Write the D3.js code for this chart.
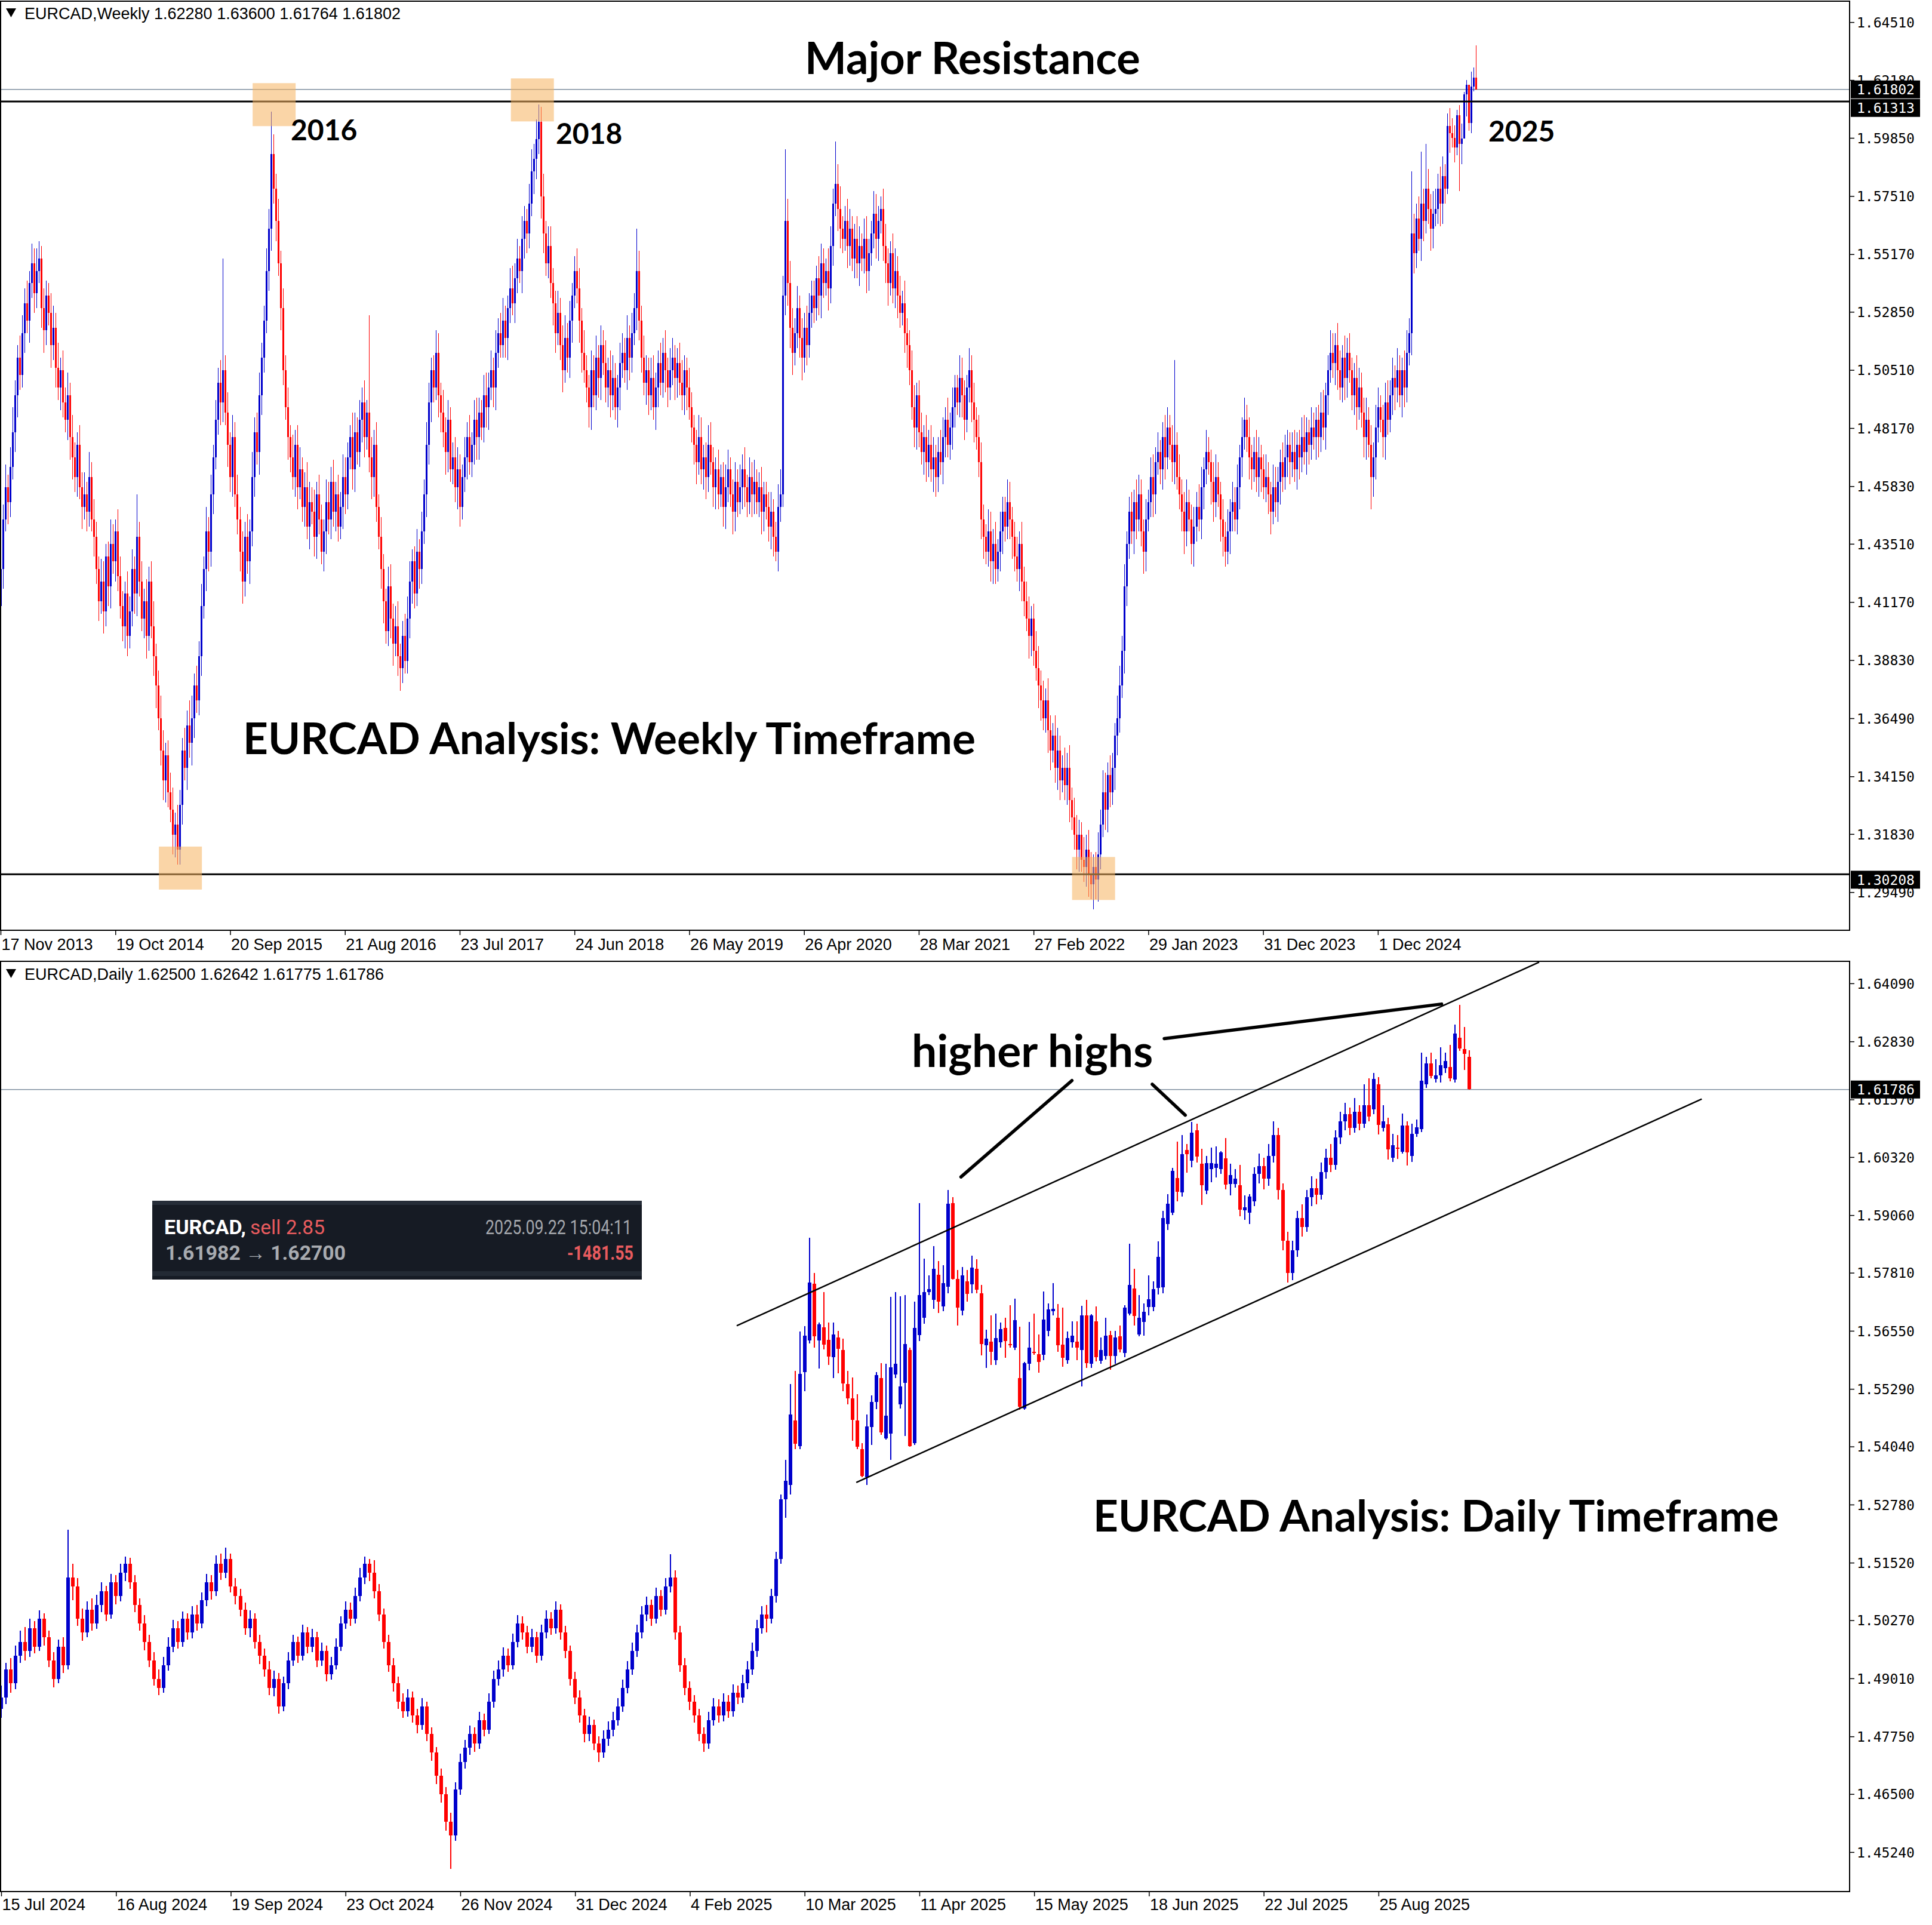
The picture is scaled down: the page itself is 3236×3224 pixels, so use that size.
<!DOCTYPE html>
<html lang="en">
<head>
<meta charset="utf-8">
<title>EURCAD Weekly and Daily</title>
<script src="https://d3js.org/d3.v7.min.js"></script>
<style>
  body { margin: 0; background: #ffffff; }
  svg { display: block; }
</style>
</head>
<body>
<script>
// ---------- weekly EURCAD, one bar per week from 17 Nov 2013 ----------
// weekly bars open at the prior close; wicks are in units of 0.001
var wkFirstOpen = 1.410;
var wkClose = [
  1.425,1.445,1.458,1.452,1.466,1.480,1.495,1.510,1.503,1.520,
  1.532,1.525,1.540,1.548,1.536,1.545,1.550,1.530,1.521,1.535,
  1.528,1.515,1.522,1.506,1.498,1.505,1.492,1.485,1.495,1.478,
  1.470,1.462,1.475,1.458,1.450,1.455,1.448,1.462,1.445,1.438,
  1.425,1.412,1.420,1.408,1.430,1.418,1.435,1.428,1.440,1.422,
  1.410,1.402,1.415,1.398,1.408,1.425,1.415,1.438,1.420,1.405,
  1.412,1.398,1.420,1.402,1.390,1.378,1.365,1.352,1.340,1.350,
  1.335,1.328,1.318,1.322,1.312,1.330,1.352,1.345,1.362,1.355,
  1.365,1.378,1.372,1.390,1.410,1.425,1.440,1.432,1.455,1.470,
  1.485,1.500,1.492,1.505,1.488,1.475,1.462,1.478,1.455,1.445,
  1.432,1.420,1.438,1.428,1.440,1.462,1.480,1.472,1.495,1.510,
  1.525,1.545,1.562,1.592,1.578,1.565,1.548,1.530,1.505,1.490,
  1.478,1.470,1.462,1.475,1.458,1.465,1.450,1.458,1.442,1.452,
  1.448,1.438,1.455,1.445,1.432,1.440,1.452,1.445,1.460,1.448,
  1.455,1.442,1.450,1.462,1.455,1.470,1.478,1.465,1.480,1.472,
  1.485,1.492,1.478,1.488,1.470,1.462,1.475,1.450,1.438,1.425,
  1.412,1.400,1.418,1.405,1.395,1.402,1.390,1.385,1.398,1.388,
  1.405,1.420,1.428,1.415,1.432,1.425,1.440,1.455,1.475,1.492,
  1.505,1.498,1.512,1.495,1.488,1.480,1.472,1.485,1.465,1.470,
  1.458,1.465,1.450,1.462,1.470,1.478,1.468,1.475,1.485,1.478,
  1.488,1.482,1.495,1.490,1.498,1.505,1.498,1.512,1.520,1.515,
  1.525,1.518,1.530,1.538,1.532,1.542,1.550,1.545,1.558,1.565,
  1.560,1.572,1.585,1.590,1.598,1.605,1.575,1.560,1.548,1.555,
  1.540,1.532,1.520,1.528,1.515,1.505,1.518,1.510,1.525,1.535,
  1.545,1.538,1.525,1.512,1.505,1.498,1.490,1.505,1.495,1.510,
  1.502,1.515,1.508,1.498,1.505,1.495,1.502,1.490,1.498,1.508,
  1.512,1.505,1.518,1.510,1.520,1.530,1.545,1.525,1.510,1.500,
  1.505,1.495,1.502,1.490,1.498,1.508,1.500,1.512,1.505,1.498,
  1.505,1.510,1.502,1.508,1.500,1.495,1.505,1.498,1.490,1.482,
  1.475,1.468,1.478,1.465,1.470,1.462,1.475,1.468,1.458,1.465,
  1.455,1.462,1.450,1.458,1.465,1.455,1.448,1.460,1.452,1.458,
  1.465,1.458,1.452,1.462,1.455,1.460,1.452,1.458,1.448,1.455,
  1.450,1.442,1.448,1.438,1.432,1.450,1.455,1.535,1.565,1.540,
  1.522,1.512,1.520,1.530,1.518,1.510,1.522,1.515,1.528,1.535,
  1.530,1.542,1.535,1.548,1.540,1.545,1.538,1.555,1.572,1.580,
  1.570,1.562,1.558,1.565,1.555,1.562,1.550,1.558,1.548,1.555,
  1.550,1.558,1.545,1.552,1.560,1.568,1.558,1.565,1.570,1.555,
  1.548,1.540,1.552,1.538,1.545,1.535,1.528,1.532,1.520,1.515,
  1.505,1.490,1.482,1.495,1.480,1.472,1.478,1.468,1.475,1.465,
  1.470,1.462,1.472,1.468,1.478,1.485,1.475,1.482,1.490,1.498,
  1.492,1.502,1.495,1.485,1.498,1.505,1.492,1.485,1.478,1.468,
  1.445,1.438,1.432,1.440,1.428,1.435,1.425,1.432,1.440,1.448,
  1.442,1.452,1.445,1.438,1.430,1.425,1.435,1.420,1.412,1.405,
  1.398,1.405,1.392,1.385,1.378,1.372,1.365,1.372,1.360,1.352,
  1.358,1.345,1.352,1.340,1.345,1.338,1.345,1.332,1.325,1.318,
  1.312,1.318,1.308,1.305,1.312,1.302,1.298,1.305,1.300,1.310,
  1.322,1.335,1.328,1.342,1.335,1.345,1.358,1.365,1.378,1.392,
  1.418,1.435,1.448,1.440,1.452,1.445,1.455,1.440,1.432,1.445,
  1.452,1.462,1.455,1.468,1.472,1.465,1.478,1.470,1.482,1.475,
  1.468,1.475,1.462,1.455,1.448,1.440,1.452,1.445,1.435,1.442,
  1.450,1.445,1.458,1.465,1.472,1.468,1.460,1.452,1.462,1.455,
  1.445,1.438,1.432,1.440,1.448,1.452,1.445,1.458,1.470,1.478,
  1.485,1.478,1.470,1.465,1.472,1.462,1.470,1.465,1.458,1.462,
  1.455,1.448,1.458,1.452,1.460,1.468,1.462,1.470,1.475,1.468,
  1.472,1.465,1.475,1.470,1.478,1.472,1.480,1.475,1.482,1.478,
  1.485,1.478,1.488,1.482,1.495,1.505,1.512,1.508,1.515,1.505,
  1.498,1.510,1.502,1.512,1.505,1.495,1.502,1.490,1.498,1.488,
  1.478,1.485,1.475,1.462,1.470,1.482,1.490,1.485,1.478,1.492,
  1.485,1.495,1.502,1.498,1.505,1.495,1.505,1.498,1.512,1.520,
  1.560,1.552,1.566,1.558,1.572,1.565,1.578,1.570,1.562,1.568,
  1.570,1.578,1.572,1.583,1.578,1.6034,1.6005,1.5986,1.5946,1.6077,
  1.5960,1.5982,1.6161,1.6198,1.6045,1.6192,1.6228,1.6180
];
var wkUpWick = [
  7,6,9,5,8,10,6,5,9,7, 6,9,5,8,6,9,7,5,8,6, 5,8,9,6,10,5,8,6,9,5, 9,6,5,8,6,9,5,10,6,8,
  6,5,9,8,5,6,10,8,5,9, 8,6,5,9,6,8,5,17,6,8, 5,9,6,8,10,5,6,9,8,5, 6,8,9,5,8,6,5,9,6,10,
  9,5,8,6,9,5,10,6,8,5, 8,6,9,45,6,8,5,9,6,8, 5,8,6,9,5,10,6,8,9,6, 6,9,8,17,8,6,9,5,8,6,
  8,5,9,6,8,9,5,6,10,8, 6,9,5,8,6,5,9,8,6,9, 5,8,6,9,8,6,5,10,8,6, 8,6,9,5,39,8,6,9,5,8,
  6,5,8,9,6,8,10,5,6,9, 9,8,5,6,9,5,8,6,9,8, 5,6,9,8,5,9,6,8,5,6, 8,9,6,5,8,6,9,5,8,9,
  6,5,8,9,6,8,5,9,6,8, 9,6,5,8,9,6,8,5,9,6, 5,8,9,6,8,7,6,9,5,8, 8,6,5,9,6,8,9,6,8,5,
  6,9,8,5,9,6,5,8,6,9, 5,8,6,9,5,8,9,6,5,8, 8,6,9,5,8,6,17,8,6,9, 6,5,8,9,6,5,8,6,9,5,
  9,8,5,6,8,9,6,5,8,6, 5,6,9,8,5,6,8,9,6,5, 8,5,6,9,8,5,6,8,5,9, 6,9,5,8,6,9,5,6,8,5,
  5,6,8,5,6,9,10,8,29,9, 9,8,6,9,5,8,6,9,8,6, 6,5,9,8,6,5,9,8,6,17, 8,9,5,6,9,8,5,6,9,8,
  5,8,9,6,5,9,8,6,5,8, 9,6,5,8,9,6,8,5,9,6, 6,8,9,5,6,8,5,9,6,8, 8,5,6,9,8,5,9,6,8,5,
  5,9,8,6,5,9,6,8,5,9, 8,6,5,9,8,6,9,5,8,6, 6,9,8,5,6,8,5,9,6,8, 9,5,6,8,9,6,8,5,9,6,
  5,8,9,6,5,8,6,9,5,8, 8,6,5,9,6,8,9,5,6,9, 6,9,8,5,8,6,5,9,8,6, 9,5,6,8,5,9,8,6,5,8,
  5,8,9,6,8,5,6,9,8,5, 8,34,5,9,6,8,9,5,6,8, 6,9,8,5,9,6,5,8,9,6, 5,8,6,9,5,8,6,9,5,8,
  9,6,8,5,6,9,8,5,6,9, 6,5,9,8,6,5,8,9,6,5, 8,9,5,6,8,9,6,5,8,6, 5,6,8,9,5,6,9,8,5,9,
  8,5,9,6,8,5,6,9,8,6, 6,9,5,8,6,9,8,5,6,8, 9,6,8,5,9,6,5,8,9,6, 25,8,6,9,21,6,18,8,6,9,
  8,6,9,8,5,5,7,6,5,2, 4,6,1,2,0,6,4,13
];
var wkLowWick = [
  10,8,5,9,6,5,8,9,6,5, 8,5,9,6,8,6,5,8,9,6, 5,9,6,8,5,9,6,5,8,9, 9,6,8,5,9,5,8,6,5,8,
  6,8,5,9,6,8,9,5,8,6, 5,6,9,8,5,6,8,9,6,5, 8,9,6,5,8,9,5,6,8,9, 6,5,8,9,6,6,8,5,9,6,
  9,8,5,6,8,5,9,8,6,8, 5,6,9,8,5,9,6,8,5,6, 8,9,6,5,9,6,8,5,9,8, 6,5,8,9,6,8,5,9,6,5,
  9,6,5,8,9,5,6,8,5,9, 5,8,9,6,5,8,9,6,8,6, 8,6,5,9,8,6,5,8,9,5, 6,9,8,5,6,9,8,6,5,8,
  9,5,6,8,9,5,8,9,6,5, 5,8,9,6,5,8,6,5,9,8, 8,6,5,9,8,6,9,8,5,6, 6,9,8,5,6,9,5,6,8,9,
  9,5,6,8,9,5,8,9,6,5, 5,8,9,6,5,8,6,5,9,8, 8,6,5,9,8,6,9,8,5,6, 6,9,8,5,6,9,5,6,8,9,
  5,6,9,8,5,6,8,9,5,6, 8,9,5,6,8,9,6,5,8,9, 6,5,8,9,6,5,9,8,6,5, 9,8,6,5,9,8,5,6,9,8,
  5,6,9,8,5,6,8,9,5,6, 8,9,5,6,8,9,6,5,8,9, 6,5,8,9,6,5,9,8,6,5, 9,8,6,5,9,8,5,6,9,8,
  5,6,9,8,4,8,6,5,8,9, 8,9,5,6,8,9,6,8,5,6, 6,5,8,9,6,5,9,6,8,5, 9,8,6,5,9,8,5,8,6,9,
  5,6,9,8,5,6,8,9,5,6, 8,9,5,6,8,9,6,5,8,9, 6,5,8,9,6,5,9,8,6,5, 9,8,6,5,9,8,5,6,9,8,
  5,6,9,8,5,6,8,9,5,6, 8,9,5,6,8,9,6,5,8,9, 6,5,8,9,6,5,9,8,6,5, 9,8,6,5,9,8,5,6,9,8,
  5,6,9,8,5,6,8,9,5,6, 8,9,5,6,8,9,6,10,8,9, 6,5,8,9,6,5,9,8,6,5, 9,8,6,5,9,8,5,6,9,8,
  5,6,9,8,5,6,8,9,5,6, 8,9,5,6,8,9,6,5,8,9, 6,5,8,9,6,5,9,8,6,5, 9,8,6,5,9,8,5,6,9,8,
  5,6,9,8,5,6,8,9,5,6, 8,9,5,6,8,9,6,5,8,9, 6,5,8,9,6,5,9,8,6,5, 9,8,6,5,9,8,5,6,9,8,
  5,6,9,8,5,6,8,9,5,6, 8,9,5,13,8,9,6,5,8,9, 6,5,8,9,6,5,9,8,6,5, 9,8,6,5,9,8,5,6,9,8,
  5,6,9,8,6,2,8,4,6,3, 19,8,0,9,3,4,2,0
];
var wkTickValues = [1.64510,1.62180,1.59850,1.57510,1.55170,1.52850,1.50510,1.48170,
                    1.45830,1.43510,1.41170,1.38830,1.36490,1.34150,1.31830,1.29490];
var wkDateLabels = ["17 Nov 2013","19 Oct 2014","20 Sep 2015","21 Aug 2016","23 Jul 2017",
                    "24 Jun 2018","26 May 2019","26 Apr 2020","28 Mar 2021","27 Feb 2022",
                    "29 Jan 2023","31 Dec 2023","1 Dec 2024"];
var wkDateStep = 48;
var wkLevels = [1.61313, 1.30208];   // black horizontal lines
var wkLast = 1.61802;
var wkHeader = "EURCAD,Weekly  1.62280 1.63600 1.61764 1.61802";
// highlighted swing points: bar index and price of box centre
var hlBar = [114.4, 222.4, 75.2, 457.1];
var hlPrice = [1.6119, 1.6138, 1.3046, 1.3004];

// ---------- daily EURCAD, one bar per trading day from 15 Jul 2024 ----------
var dOpen = [
  1.4835,1.4860,1.4920,1.4890,1.4950,1.4980,1.4960,1.5010,1.4970,1.5030,
  1.4990,1.4940,1.4900,1.4970,1.4930,1.5120,1.5100,1.5030,1.5000,1.5050,
  1.5020,1.5060,1.5090,1.5040,1.5110,1.5080,1.5130,1.5150,1.5110,1.5060,
  1.5020,1.4980,1.4940,1.4900,1.4880,1.4930,1.4970,1.5010,1.4980,1.5030,
  1.5000,1.5040,1.5020,1.5070,1.5110,1.5090,1.5150,1.5130,1.5160,1.5100,
  1.5080,1.5050,1.5010,1.5030,1.4980,1.4950,1.4920,1.4880,1.4900,1.4840,
  1.4890,1.4940,1.4980,1.4950,1.5000,1.4970,1.4990,1.4940,1.4960,1.4910,
  1.4930,1.4970,1.5020,1.5050,1.5030,1.5080,1.5120,1.5150,1.5130,1.5090,
  1.5040,1.4980,1.4930,1.4890,1.4850,1.4830,1.4860,1.4820,1.4800,1.4840,
  1.4780,1.4740,1.4690,1.4650,1.4590,1.4560,1.4660,1.4720,1.4750,1.4780,
  1.4760,1.4810,1.4790,1.4850,1.4900,1.4920,1.4950,1.4930,1.4980,1.5020,
  1.5000,1.4970,1.4990,1.4950,1.5000,1.5030,1.5010,1.5050,1.5000,1.4960,
  1.4900,1.4860,1.4820,1.4780,1.4800,1.4760,1.4740,1.4770,1.4790,1.4810,
  1.4840,1.4880,1.4920,1.4960,1.5000,1.5040,1.5060,1.5030,1.5080,1.5050,
  1.5100,1.5120,1.5000,1.4930,1.4880,1.4850,1.4820,1.4780,1.4760,1.4810,
  1.4840,1.4820,1.4850,1.4830,1.4870,1.4860,1.4890,1.4920,1.4960,1.5010,
  1.5040,1.5030,1.5080,1.5160,1.5290,1.5320,1.5460,1.5405,1.5565,1.5634,
  1.5757,1.5634,1.5663,1.5635,1.5598,1.5640,1.5614,1.5539,1.5508,1.5460,
  1.5399,1.5338,1.5446,1.5501,1.5553,1.5422,1.5432,1.5560,1.5496,1.5542,
  1.5613,1.5411,1.5646,1.5683,1.5739,1.5722,1.5777,1.5708,1.5751,1.5932,
  1.5768,1.5699,1.5763,1.5756,1.5790,1.5737,1.5624,1.5631,1.5592,1.5630,
  1.5661,1.5627,1.5619,1.5553,1.5486,1.5583,1.5609,1.5604,1.5603,1.5655,
  1.5698,1.5683,1.5625,1.5591,1.5630,1.5631,1.5614,1.5689,1.5583,1.5675,
  1.5590,1.5601,1.5646,1.5601,1.5643,1.5607,1.5693,1.5747,1.5647,1.5674,
  1.5707,1.5707,1.5748,1.5749,1.5887,1.5912,1.5986,1.5955,1.6047,1.6024,
  1.6090,1.6017,1.5959,1.6006,1.6009,1.6006,1.6029,1.5974,1.5974,1.5971,
  1.5917,1.5911,1.5936,1.5996,1.6012,1.5985,1.6035,1.6080,1.5960,1.5850,
  1.5780,1.5830,1.5900,1.5880,1.5945,1.5965,1.5950,1.6000,1.6030,1.6015,
  1.6075,1.6110,1.6125,1.6095,1.6130,1.6105,1.6145,1.6136,1.6190,1.6095,
  1.6103,1.6030,1.6053,1.6044,1.6101,1.6035,1.6083,1.6093,1.6190,1.6235,
  1.6201,1.6210,1.6225,1.6228,1.6200,1.6291,1.6267,1.6250
];
var dHigh = [
  1.4885,1.4935,1.4945,1.4972,1.5005,1.5012,1.5030,1.5025,1.5048,1.5042,
  1.5005,1.4958,1.4985,1.4990,1.5224,1.5150,1.5118,1.5052,1.5068,1.5075,
  1.5082,1.5110,1.5102,1.5128,1.5125,1.5150,1.5165,1.5162,1.5125,1.5075,
  1.5038,1.4995,1.4958,1.4920,1.4948,1.4990,1.5028,1.5025,1.5046,1.5042,
  1.5058,1.5060,1.5088,1.5128,1.5125,1.5168,1.5172,1.5185,1.5172,1.5118,
  1.5095,1.5065,1.5048,1.5042,1.4995,1.4965,1.4938,1.4918,1.4912,1.4905,
  1.4958,1.4995,1.4992,1.5018,1.5012,1.5008,1.5002,1.4978,1.4972,1.4948,
  1.4988,1.5035,1.5068,1.5065,1.5098,1.5140,1.5165,1.5160,1.5158,1.5105,
  1.5052,1.4995,1.4945,1.4905,1.4868,1.4878,1.4872,1.4835,1.4858,1.4850,
  1.4795,1.4752,1.4705,1.4665,1.4610,1.4675,1.4738,1.4768,1.4798,1.4795,
  1.4828,1.4825,1.4868,1.4918,1.4940,1.4968,1.4965,1.4998,1.5038,1.5035,
  1.5015,1.5008,1.5002,1.5018,1.5048,1.5045,1.5068,1.5062,1.5015,1.4972,
  1.4915,1.4875,1.4835,1.4818,1.4812,1.4775,1.4788,1.4808,1.4828,1.4858,
  1.4898,1.4938,1.4978,1.5018,1.5058,1.5078,1.5072,1.5098,1.5092,1.5118,
  1.5170,1.5135,1.5015,1.4945,1.4895,1.4865,1.4835,1.4795,1.4828,1.4858,
  1.4855,1.4868,1.4865,1.4888,1.4885,1.4908,1.4938,1.4978,1.5028,1.5058,
  1.5060,1.5095,1.5175,1.5300,1.5375,1.5539,1.5568,1.5653,1.5665,1.5857,
  1.5780,1.5673,1.5739,1.5673,1.5673,1.5655,1.5638,1.5568,1.5554,1.5517,
  1.5411,1.5473,1.5515,1.5565,1.5585,1.5583,1.5729,1.5739,1.5730,1.5732,
  1.5618,1.5718,1.5932,1.5812,1.5776,1.5839,1.5807,1.5798,1.5961,1.5945,
  1.5787,1.5793,1.5787,1.5818,1.5810,1.5754,1.5658,1.5689,1.5693,1.5673,
  1.5684,1.5711,1.5725,1.5664,1.5588,1.5674,1.5693,1.5647,1.5740,1.5714,
  1.5759,1.5713,1.5705,1.5653,1.5675,1.5675,1.5709,1.5722,1.5691,1.5708,
  1.5640,1.5683,1.5655,1.5655,1.5666,1.5711,1.5844,1.5790,1.5732,1.5714,
  1.5776,1.5762,1.5849,1.5915,1.5951,1.6009,1.6065,1.6080,1.6060,1.6108,
  1.6105,1.6050,1.6035,1.6052,1.6055,1.6045,1.6073,1.6017,1.6006,1.6015,
  1.5949,1.5951,1.6010,1.6040,1.6030,1.6060,1.6110,1.6095,1.5975,1.5870,
  1.5850,1.5915,1.5930,1.5960,1.5990,1.5985,1.6020,1.6050,1.6060,1.6090,
  1.6130,1.6150,1.6140,1.6160,1.6145,1.6190,1.6203,1.6215,1.6206,1.6144,
  1.6117,1.6083,1.6080,1.6126,1.6109,1.6105,1.6113,1.6258,1.6249,1.6258,
  1.6244,1.6270,1.6259,1.6276,1.6319,1.6362,1.6314,1.6264
];
var dLow = [
  1.4815,1.4845,1.4870,1.4878,1.4935,1.4940,1.4948,1.4955,1.4960,1.4972,
  1.4925,1.4882,1.4890,1.4912,1.4920,1.5070,1.5015,1.4982,1.4990,1.5005,
  1.5008,1.5045,1.5025,1.5030,1.5062,1.5068,1.5112,1.5095,1.5045,1.5005,
  1.4962,1.4925,1.4885,1.4865,1.4870,1.4918,1.4958,1.4965,1.4970,1.4985,
  1.4988,1.5005,1.5010,1.5058,1.5072,1.5080,1.5115,1.5118,1.5088,1.5062,
  1.5035,1.4995,1.4990,1.4965,1.4932,1.4905,1.4865,1.4862,1.4825,1.4830,
  1.4878,1.4928,1.4935,1.4940,1.4955,1.4958,1.4925,1.4928,1.4895,1.4898,
  1.4920,1.4960,1.5008,1.5015,1.5020,1.5068,1.5105,1.5112,1.5075,1.5025,
  1.4965,1.4915,1.4872,1.4835,1.4815,1.4818,1.4805,1.4782,1.4790,1.4765,
  1.4722,1.4672,1.4632,1.4570,1.4487,1.4548,1.4648,1.4705,1.4735,1.4742,
  1.4748,1.4775,1.4780,1.4838,1.4885,1.4905,1.4915,1.4920,1.4968,1.4985,
  1.4955,1.4958,1.4935,1.4940,1.4988,1.4995,1.4998,1.4985,1.4945,1.4885,
  1.4845,1.4805,1.4762,1.4765,1.4745,1.4720,1.4728,1.4755,1.4775,1.4798,
  1.4828,1.4868,1.4908,1.4948,1.4988,1.5025,1.5015,1.5020,1.5035,1.5040,
  1.5088,1.4985,1.4915,1.4865,1.4832,1.4805,1.4765,1.4742,1.4748,1.4798,
  1.4805,1.4808,1.4815,1.4818,1.4845,1.4848,1.4878,1.4908,1.4948,1.4998,
  1.5000,1.5020,1.5065,1.5150,1.5250,1.5300,1.5399,1.5399,1.5524,1.5628,
  1.5619,1.5573,1.5615,1.5581,1.5553,1.5563,1.5524,1.5496,1.5417,1.5399,
  1.5337,1.5321,1.5407,1.5485,1.5429,1.5419,1.5375,1.5553,1.5486,1.5427,
  1.5404,1.5408,1.5633,1.5671,1.5732,1.5703,1.5694,1.5698,1.5737,1.5766,
  1.5666,1.5688,1.5718,1.5737,1.5737,1.5602,1.5574,1.5581,1.5581,1.5618,
  1.5597,1.5618,1.5613,1.5484,1.5484,1.5569,1.5603,1.5564,1.5591,1.5643,
  1.5688,1.5609,1.5577,1.5583,1.5618,1.5591,1.5534,1.5575,1.5574,1.5589,
  1.5583,1.5593,1.5571,1.5583,1.5608,1.5598,1.5688,1.5667,1.5643,1.5644,
  1.5688,1.5698,1.5734,1.5737,1.5874,1.5906,1.5936,1.5946,1.5998,1.6010,
  1.6020,1.5928,1.5952,1.5978,1.5988,1.5996,1.5962,1.5949,1.5966,1.5903,
  1.5896,1.5887,1.5925,1.5975,1.5962,1.5970,1.6020,1.5940,1.5830,1.5760,
  1.5765,1.5815,1.5860,1.5870,1.5925,1.5930,1.5940,1.5985,1.6000,1.6005,
  1.6060,1.6090,1.6080,1.6085,1.6090,1.6095,1.6110,1.6125,1.6081,1.6088,
  1.6027,1.6022,1.6028,1.6040,1.6014,1.6022,1.6076,1.6086,1.6182,1.6203,
  1.6194,1.6194,1.6215,1.6196,1.6194,1.6263,1.6221,1.6178
];
var dClose = [
  1.4860,1.4920,1.4890,1.4950,1.4980,1.4960,1.5010,1.4970,1.5030,1.4990,
  1.4940,1.4900,1.4970,1.4930,1.5120,1.5100,1.5030,1.5000,1.5050,1.5020,
  1.5060,1.5090,1.5040,1.5110,1.5080,1.5130,1.5150,1.5110,1.5060,1.5020,
  1.4980,1.4940,1.4900,1.4880,1.4930,1.4970,1.5010,1.4980,1.5030,1.5000,
  1.5040,1.5020,1.5070,1.5110,1.5090,1.5150,1.5130,1.5160,1.5100,1.5080,
  1.5050,1.5010,1.5030,1.4980,1.4950,1.4920,1.4880,1.4900,1.4840,1.4890,
  1.4940,1.4980,1.4950,1.5000,1.4970,1.4990,1.4940,1.4960,1.4910,1.4930,
  1.4970,1.5020,1.5050,1.5030,1.5080,1.5120,1.5150,1.5130,1.5090,1.5040,
  1.4980,1.4930,1.4890,1.4850,1.4830,1.4860,1.4820,1.4800,1.4840,1.4780,
  1.4740,1.4690,1.4650,1.4590,1.4560,1.4660,1.4720,1.4750,1.4780,1.4760,
  1.4810,1.4790,1.4850,1.4900,1.4920,1.4950,1.4930,1.4980,1.5020,1.5000,
  1.4970,1.4990,1.4950,1.5000,1.5030,1.5010,1.5050,1.5000,1.4960,1.4900,
  1.4860,1.4820,1.4780,1.4800,1.4760,1.4740,1.4770,1.4790,1.4810,1.4840,
  1.4880,1.4920,1.4960,1.5000,1.5040,1.5060,1.5030,1.5080,1.5050,1.5100,
  1.5120,1.5000,1.4930,1.4880,1.4850,1.4820,1.4780,1.4760,1.4810,1.4840,
  1.4820,1.4850,1.4830,1.4870,1.4860,1.4890,1.4920,1.4960,1.5010,1.5040,
  1.5030,1.5080,1.5160,1.5290,1.5330,1.5474,1.5410,1.5562,1.5644,1.5760,
  1.5643,1.5669,1.5625,1.5599,1.5647,1.5616,1.5541,1.5509,1.5462,1.5403,
  1.5340,1.5447,1.5501,1.5559,1.5434,1.5471,1.5576,1.5583,1.5535,1.5627,
  1.5405,1.5661,1.5732,1.5739,1.5746,1.5790,1.5718,1.5758,1.5931,1.5768,
  1.5706,1.5776,1.5735,1.5792,1.5744,1.5627,1.5638,1.5609,1.5639,1.5659,
  1.5633,1.5626,1.5678,1.5490,1.5585,1.5618,1.5607,1.5587,1.5679,1.5701,
  1.5703,1.5624,1.5596,1.5639,1.5644,1.5618,1.5689,1.5585,1.5689,1.5598,
  1.5613,1.5645,1.5601,1.5641,1.5615,1.5705,1.5754,1.5687,1.5684,1.5696,
  1.5723,1.5746,1.5816,1.5900,1.5931,1.6002,1.5957,1.6038,1.6038,1.6085,
  1.6033,1.5971,1.6019,1.6019,1.6018,1.6042,1.5972,1.5993,1.5985,1.5918,
  1.5923,1.5947,1.5996,1.6012,1.5985,1.6035,1.6080,1.5960,1.5850,1.5780,
  1.5830,1.5900,1.5880,1.5945,1.5965,1.5950,1.6000,1.6030,1.6015,1.6075,
  1.6110,1.6125,1.6095,1.6130,1.6105,1.6145,1.6120,1.6201,1.6102,1.6109,
  1.6049,1.6058,1.6051,1.6101,1.6042,1.6083,1.6096,1.6198,1.6235,1.6208,
  1.6210,1.6231,1.6240,1.6203,1.6300,1.6268,1.6256,1.6179
];
var dTickValues = [1.64090,1.62830,1.61570,1.60320,1.59060,1.57810,1.56550,1.55290,
                   1.54040,1.52780,1.51520,1.50270,1.49010,1.47750,1.46500,1.45240];
var dDateLabels = ["15 Jul 2024","16 Aug 2024","19 Sep 2024","23 Oct 2024","26 Nov 2024",
                   "31 Dec 2024","4 Feb 2025","10 Mar 2025","11 Apr 2025","15 May 2025",
                   "18 Jun 2025","22 Jul 2025","25 Aug 2025"];
var dDateStep = 24;
var dLast = 1.61786;
var dHeader = "EURCAD,Daily  1.62500 1.62642 1.61775 1.61786";
// trend lines on the daily chart: [bar, price] end points
var channelUpper = [[153.8, 1.5666], [321.6, 1.6455]];
var channelLower = [[178.8, 1.5326], [355.6, 1.6158]];
var pointerLines = [
  [[200.7, 1.5989], [223.9, 1.6198]],
  [[240.7, 1.6190], [247.6, 1.6123]],
  [[243.2, 1.6289], [301.2, 1.6364]]
];

// ---------- layout ----------
var W = 3236, H = 3224;
var plotRight = 3098;
var wkPanel = { top: 2, bottom: 1558 };
var dPanel = { top: 1610, bottom: 3168 };
var BULL = "#0000cc", BEAR = "#ff0000";
var bigFont = "Lato, 'Open Sans', sans-serif";
var uiFont = "'Liberation Sans', Arial, sans-serif";
var axisFont = "'DejaVu Sans Mono', monospace";

var svg = d3.select("body").append("svg")
  .attr("width", W).attr("height", H)
  .style("background", "#ffffff");

var wx = d3.scaleLinear().domain([0, 576]).range([1, 1 + 4.005 * 576]);
var wy = d3.scaleLinear().domain([1.29490, 1.64510]).range([1494.2, 37.1]);
var dx = d3.scaleLinear().domain([0, 288]).range([2, 2 + 8.01 * 288]);
var dy = d3.scaleLinear().domain([1.45240, 1.64090]).range([3101.9, 1646.9]);

var weekly = wkClose.map(function(c, i) {
  var o = i ? wkClose[i - 1] : wkFirstOpen;
  return { i: i, o: o, c: c,
           h: Math.max(o, c) + wkUpWick[i] / 1000,
           l: Math.min(o, c) - wkLowWick[i] / 1000 };
});
var daily = dClose.map(function(c, i) {
  return { i: i, o: dOpen[i], h: dHigh[i], l: dLow[i], c: c };
});

var defs = svg.append("defs");
function clip(id, p) {
  defs.append("clipPath").attr("id", id).append("rect")
    .attr("x", 1).attr("y", p.top).attr("width", plotRight - 1).attr("height", p.bottom - p.top);
}
clip("clipW", wkPanel);
clip("clipD", dPanel);

function drawCandles(layer, bars, x, y, bodyW, wickW) {
  var bHalf = Math.floor(bodyW / 2), wHalf = Math.floor(wickW / 2);
  var g = layer.selectAll(null).data(bars).enter().append("g")
    .attr("fill", function(d) { return d.c >= d.o ? BULL : BEAR; })
    .attr("shape-rendering", "crispEdges");
  g.append("rect")
    .attr("x", function(d) { return Math.round(x(d.i)) - wHalf; })
    .attr("width", wickW)
    .attr("y", function(d) { return y(d.h); })
    .attr("height", function(d) { return Math.max(1, y(d.l) - y(d.h)); });
  g.append("rect")
    .attr("x", function(d) { return Math.round(x(d.i)) - bHalf; })
    .attr("width", bodyW)
    .attr("y", function(d) { return y(Math.max(d.o, d.c)); })
    .attr("height", function(d) { return Math.max(2, Math.abs(y(d.o) - y(d.c))); });
}

function priceAxis(scale, ticks, panel) {
  var ax = d3.axisRight(scale).tickValues(ticks)
    .tickFormat(d3.format(".5f")).tickSize(8).tickSizeOuter(0);
  var g = svg.append("g").attr("transform", "translate(" + plotRight + ",0)").call(ax);
  g.select(".domain").remove();
  g.selectAll(".tick line").attr("stroke", "#000").attr("stroke-width", 1.5);
  g.selectAll(".tick text").attr("x", 12).attr("dy", "0.36em")
    .style("font-family", axisFont).style("font-size", "23px").attr("fill", "#000");
  svg.append("line").attr("x1", plotRight).attr("x2", plotRight)
    .attr("y1", panel.top).attr("y2", panel.bottom).attr("stroke", "#000").attr("stroke-width", 2);
}

function dateAxis(scale, labels, step, panel, textY) {
  var idx = labels.map(function(d, k) { return k * step; });
  var ax = d3.axisBottom(scale).tickValues(idx)
    .tickFormat(function(d) { return labels[d / step]; }).tickSize(8).tickSizeOuter(0);
  var g = svg.append("g").attr("transform", "translate(0," + panel.bottom + ")").call(ax);
  g.select(".domain").remove();
  g.selectAll(".tick line").attr("stroke", "#000").attr("stroke-width", 1.5);
  g.selectAll(".tick text").attr("text-anchor", "start").attr("x", 1).attr("y", textY).attr("dy", "0.71em")
    .style("font-family", uiFont).style("font-size", "27px").attr("fill", "#000");
}

function header(text, y) {
  svg.append("path")
    .attr("d", "M10," + (y - 9) + "L27," + (y - 9) + "L18.5," + (y + 6) + "Z").attr("fill", "#000");
  svg.append("text").attr("x", 41).attr("y", y + 9).text(text)
    .style("font-family", uiFont).style("font-size", "27px").attr("fill", "#000");
}

function priceTag(value, yPos) {
  svg.append("rect").attr("x", plotRight + 2).attr("y", yPos - 15).attr("width", 116).attr("height", 30)
    .attr("fill", "#000");
  svg.append("text").attr("x", plotRight + 12).attr("y", yPos).attr("dy", "0.36em")
    .text(d3.format(".5f")(value))
    .style("font-family", axisFont).style("font-size", "23px").attr("fill", "#fff");
}

// ---------- weekly panel ----------
var wLayer = svg.append("g").attr("clip-path", "url(#clipW)");
wLayer.append("line").attr("x1", 1).attr("x2", plotRight)
  .attr("y1", wy(wkLast)).attr("y2", wy(wkLast)).attr("stroke", "#8090a0").attr("stroke-width", 1.5);
drawCandles(wLayer, weekly, wx, wy, 3, 1);
wLayer.selectAll(null).data(wkLevels).enter().append("line")
  .attr("x1", 1).attr("x2", plotRight)
  .attr("y1", function(d) { return wy(d); }).attr("y2", function(d) { return wy(d); })
  .attr("stroke", "#000").attr("stroke-width", 3);
wLayer.selectAll(null).data(hlBar).enter().append("rect")
  .attr("x", function(d) { return wx(d) - 36; })
  .attr("y", function(d, k) { return wy(hlPrice[k]) - 36; })
  .attr("width", 72).attr("height", 72)
  .attr("fill", "#f6b25e").attr("fill-opacity", 0.55);
svg.append("rect").attr("x", 1).attr("y", wkPanel.top).attr("width", plotRight - 1)
  .attr("height", wkPanel.bottom - wkPanel.top).attr("fill", "none").attr("stroke", "#000").attr("stroke-width", 2);
priceAxis(wy, wkTickValues, wkPanel);
dateAxis(wx, wkDateLabels, wkDateStep, wkPanel, 14);
header(wkHeader, 23);

var tagA = wy(wkLast), tagB = wy(wkLevels[0]);
if (tagB - tagA < 31) tagB = tagA + 31;
priceTag(wkLast, tagA);
priceTag(wkLevels[0], tagB);
priceTag(wkLevels[1], wy(wkLevels[1]) + 9);

// ---------- daily panel ----------
var dLayer = svg.append("g").attr("clip-path", "url(#clipD)");
dLayer.append("line").attr("x1", 1).attr("x2", plotRight)
  .attr("y1", dy(dLast)).attr("y2", dy(dLast)).attr("stroke", "#8090a0").attr("stroke-width", 1.5);
drawCandles(dLayer, daily, dx, dy, 6, 2);
var lineGen = d3.line().x(function(p) { return dx(p[0]); }).y(function(p) { return dy(p[1]); });
dLayer.selectAll(null).data([channelUpper, channelLower]).enter().append("path")
  .attr("d", lineGen).attr("stroke", "#000").attr("stroke-width", 2.5).attr("fill", "none");
dLayer.selectAll(null).data(pointerLines).enter().append("path")
  .attr("d", lineGen).attr("stroke", "#000").attr("stroke-width", 5.5)
  .attr("stroke-linecap", "round").attr("fill", "none");
svg.append("rect").attr("x", 1).attr("y", dPanel.top).attr("width", plotRight - 1)
  .attr("height", dPanel.bottom - dPanel.top).attr("fill", "none").attr("stroke", "#000").attr("stroke-width", 2);
priceAxis(dy, dTickValues, dPanel);
dateAxis(dx, dDateLabels, dDateStep, dPanel, 12);
header(dHeader, 1632);
priceTag(dLast, dy(dLast));

// ---------- annotations ----------
function label(text, x, y, size, anchor) {
  svg.append("text").attr("x", x).attr("y", y).text(text)
    .attr("text-anchor", anchor || "start")
    .style("font-family", bigFont).style("font-weight", 700)
    .style("font-size", size + "px").attr("fill", "#000");
}
label("Major Resistance", 1348, 124, 74);
label("2016", 487, 235, 48);
label("2018", 931, 241, 48);
label("2025", 2493, 237, 48);
label("EURCAD Analysis: Weekly Timeframe", 407, 1263, 73);
label("higher highs", 1527, 1787, 75);
label("EURCAD Analysis: Daily Timeframe", 1831, 2565, 73);

// ---------- trade notification card ----------
var card = svg.append("g");
card.append("rect").attr("x", 255).attr("y", 2011).attr("width", 820).attr("height", 132).attr("fill", "#161b24");
card.append("rect").attr("x", 255).attr("y", 2011).attr("width", 820).attr("height", 7).attr("fill", "#262d38");
card.append("rect").attr("x", 255).attr("y", 2129).attr("width", 820).attr("height", 8).attr("fill", "#232a34");
function cardText(t, x, y, color, len, anchor, weight) {
  card.append("text").attr("x", x).attr("y", y).text(t)
    .attr("text-anchor", anchor || "start")
    .attr("textLength", len).attr("lengthAdjust", "spacingAndGlyphs")
    .style("font-family", "Roboto, 'Open Sans', sans-serif").style("font-size", "34px")
    .style("font-weight", weight || 400).attr("fill", color);
}
cardText("EURCAD,", 275, 2067, "#ffffff", 137, "start", 700);
cardText("sell 2.85", 419, 2067, "#e85b5e", 125);
cardText("2025.09.22 15:04:11", 813, 2067, "#a3a6ab", 245);
cardText("1.61982 \u2192 1.62700", 277, 2110, "#a8abb0", 302, "start", 700);
cardText("-1481.55", 950, 2110, "#e85b5e", 111, "start", 700);
</script>
</body>
</html>
